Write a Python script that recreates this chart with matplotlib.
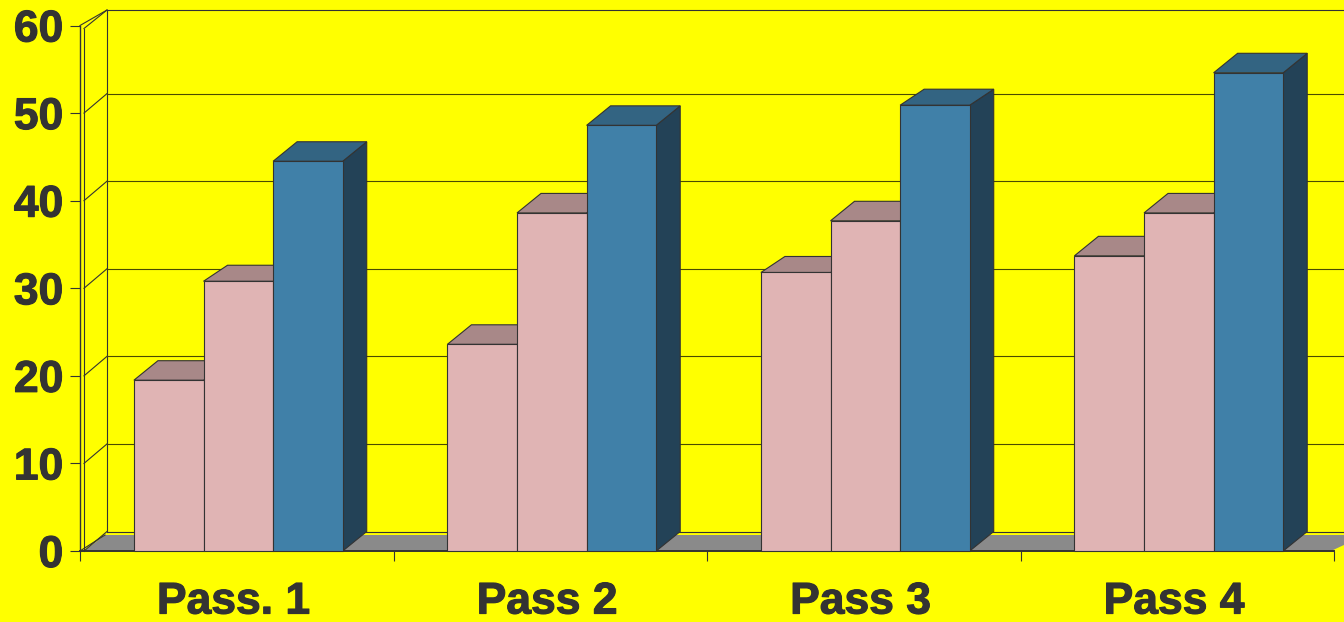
import matplotlib
matplotlib.use('Agg')
import matplotlib.pyplot as plt
from matplotlib import patheffects
from matplotlib.patches import Polygon

categories = ['Pass. 1', 'Pass 2', 'Pass 3', 'Pass 4']
series_a = [19.5, 23.6, 31.8, 33.7]
series_b = [30.8, 38.6, 37.7, 38.6]
series_c = [44.5, 48.6, 50.9, 54.6]
y_ticks = [0, 10, 20, 30, 40, 50, 60]

W, H = 1344, 622
X0, X1, Y0, Y60 = 80, 1334, 551, 25.5
px_x = 4 / (X1 - X0)          # one pixel in data units
px_y = 60 / (Y0 - Y60)

plt.rcParams['font.family'] = ['Liberation Sans', 'DejaVu Sans']
line_col = '#333333'
pink, pink_top = '#E0B4B4', '#A88888'
blue, blue_top, blue_side = '#4080A8', '#336482', '#234257'

fig = plt.figure(figsize=(W / 100, H / 100), dpi=100, facecolor='#FFFF00')
ax = fig.add_axes([X0 / W, 1 - Y0 / H, (X1 - X0) / W, (Y0 - Y60) / H])
ax.set_facecolor('none')
ax.set_xlim(0, 4)
ax.set_ylim(0, 60)
for s in ['top', 'right']:
    ax.spines[s].set_visible(False)
ax.spines['left'].set_color(line_col)
ax.spines['left'].set_linewidth(1.0)
ax.spines['bottom'].set_color(line_col)
ax.spines['bottom'].set_linewidth(1.4)

wall_dx, wall_dy = 27 * px_x, 19.5 * px_y
inner = 4 * px_x


def poly(pts, fc, z=3, lw=0.8, ec=line_col):
    ax.add_patch(Polygon(pts, closed=True, facecolor=fc, edgecolor=ec,
                         linewidth=lw, zorder=z, clip_on=False))


def line(xs, ys, z=1, lw=0.8, col=line_col):
    ax.plot(xs, ys, color=col, linewidth=lw, zorder=z, clip_on=False)


# floor
floor_dy = 16 * px_y
poly([(inner, 0), (wall_dx - 2 * px_x, floor_dy), (4.1, floor_dy), (4 - 3 * px_x, 0)],
     '#8A8A8A', z=1, lw=0, ec='none')

# walls and gridlines
line([inner, inner], [0, 60 - 3 * px_y])
line([wall_dx, wall_dx], [wall_dy, 60 + 15.5 * px_y])
line([0, wall_dx], [60, 60 + 15.5 * px_y])
line([inner, wall_dx], [60 - 3 * px_y, 60 + 15.5 * px_y])
line([wall_dx, 4.1], [60 + 15.5 * px_y, 60 + 15.5 * px_y])
for v in y_ticks[:-1]:
    line([inner, wall_dx], [v, v + wall_dy])
    line([wall_dx, 4.1], [v + wall_dy, v + wall_dy], col='#4A4A00' if v else line_col)
line([0, wall_dx - 2 * px_x], [0, floor_dy])

# bars, a few have a shallower top in the original
bar_w = 0.222
start = 0.172
depth_x, depth_y = 24 * px_x, 19.5 * px_y
shallow = [(0, 1), (2, 0), (2, 2)]
for i in range(len(categories)):
    for j, vals in enumerate([series_a, series_b, series_c]):
        v = vals[i]
        x = i + start + j * bar_w
        dy = 16 * px_y if (i, j) in shallow else depth_y
        front, top, side = (pink, pink_top, pink_top) if j < 2 else (blue, blue_top, blue_side)
        poly([(x + bar_w, 0), (x + bar_w + depth_x, depth_y),
              (x + bar_w + depth_x, v + dy), (x + bar_w, v)], side, z=3 + j)
        poly([(x, v), (x + depth_x, v + dy),
              (x + bar_w + depth_x, v + dy), (x + bar_w, v)], top, z=3 + j)
        poly([(x, 0), (x, v), (x + bar_w, v), (x + bar_w, 0)], front, z=3 + j)

# axes ticks and labels
ax.set_yticks(y_ticks)
ax.set_yticklabels([str(v) for v in y_ticks], fontsize=32, fontweight='bold', color=line_col)
ax.tick_params(axis='y', length=7, width=0.8, color=line_col, pad=5)
ax.set_xticks(range(5))
ax.set_xticklabels([])
ax.tick_params(axis='x', which='major', length=7, width=0.8, color=line_col)
ax.set_xticks([i + 0.49 for i in range(4)], minor=True)
ax.set_xticklabels(categories, minor=True, fontsize=32, fontweight='bold', color=line_col)
ax.tick_params(axis='x', which='minor', length=0, pad=22)

# original lettering is a little heavier
heavy = [patheffects.withStroke(linewidth=0.8, foreground=line_col)]
for t in ax.get_yticklabels() + ax.get_xticklabels(minor=True):
    t.set_path_effects(heavy)

fig.savefig('out.png', dpi=100, facecolor=fig.get_facecolor())
